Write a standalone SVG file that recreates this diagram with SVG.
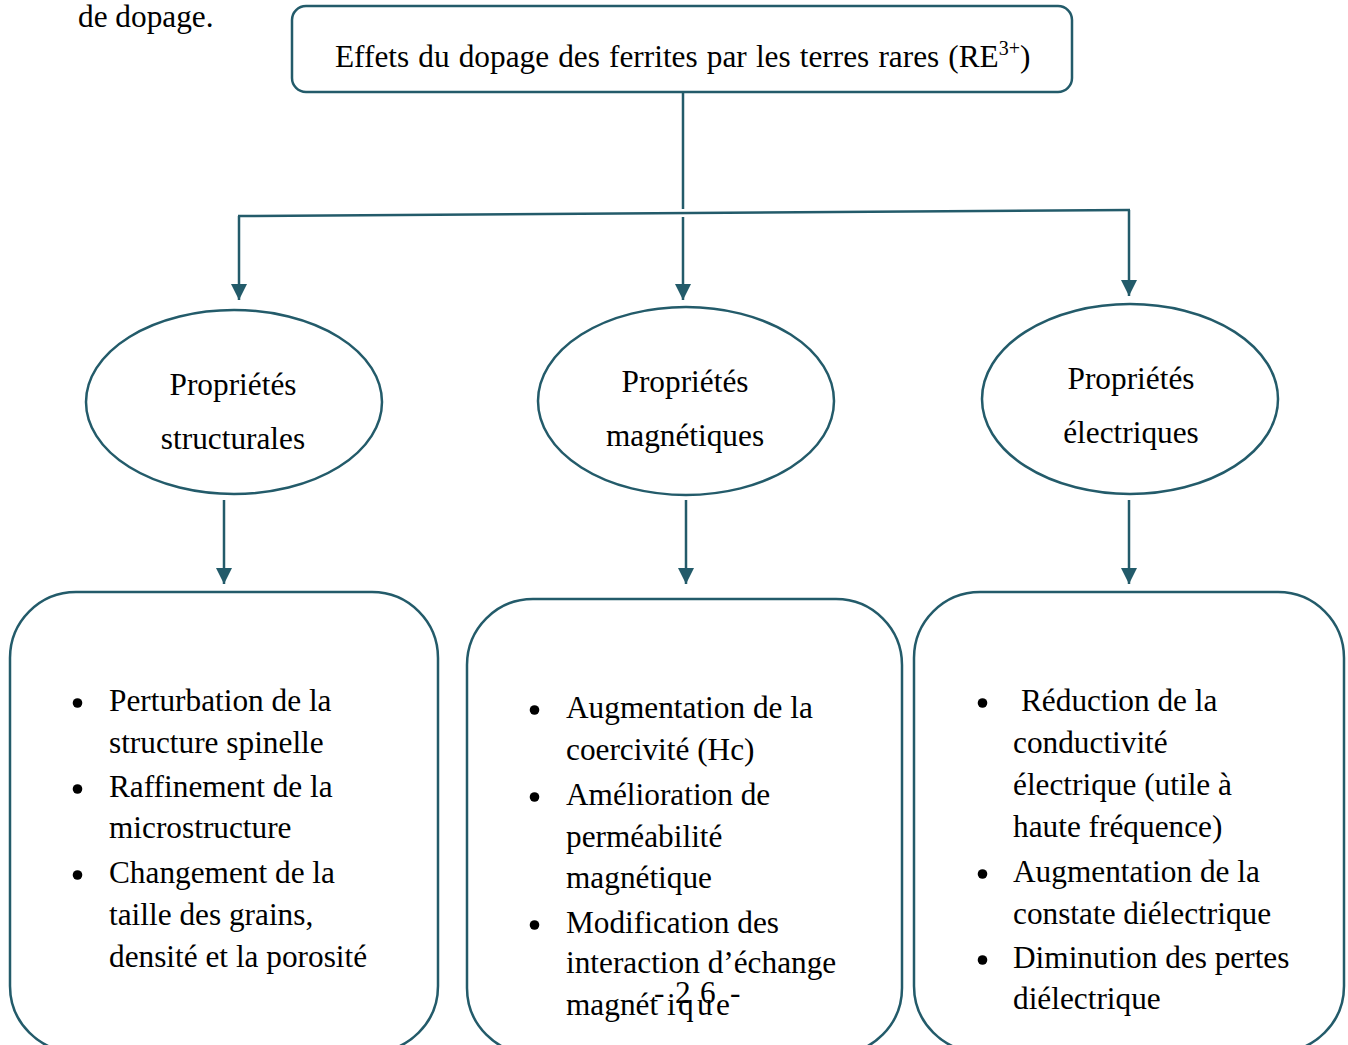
<svg xmlns="http://www.w3.org/2000/svg" width="1348" height="1045" viewBox="0 0 1348 1045">
<style>
  .shape { fill: #ffffff; stroke: #235B6A; stroke-width: 2.5; }
  .conn { fill: none; stroke: #235B6A; stroke-width: 2.5; }
  .t { font-family: "Liberation Serif", "Times New Roman", serif; font-size: 31.3px; fill: #000000; }
  .c { text-anchor: middle; }
  .dot { fill: #000000; }
</style>
<defs>
  <marker id="arrow" markerUnits="userSpaceOnUse" markerWidth="16" markerHeight="16" refX="16" refY="8" orient="auto">
    <path d="M0,0 L16,8 L0,16 z" fill="#235B6A"/>
  </marker>
</defs>
<rect width="1348" height="1045" fill="#ffffff"/>

<text class="t" x="78" y="27">de dopage.</text>

<g id="connectors">
  <line class="conn" x1="683" y1="93" x2="683" y2="209"/>
  <line class="conn" x1="238" y1="216" x2="1130" y2="210"/>
  <line class="conn" x1="239" y1="216" x2="239" y2="300" marker-end="url(#arrow)"/>
  <line class="conn" x1="683" y1="217" x2="683" y2="300" marker-end="url(#arrow)"/>
  <line class="conn" x1="1129" y1="210" x2="1129" y2="296" marker-end="url(#arrow)"/>
  <line class="conn" x1="224" y1="500" x2="224" y2="584" marker-end="url(#arrow)"/>
  <line class="conn" x1="686" y1="500" x2="686" y2="584" marker-end="url(#arrow)"/>
  <line class="conn" x1="1129" y1="500" x2="1129" y2="584" marker-end="url(#arrow)"/>
</g>

<g id="root">
  <rect class="shape" x="292" y="6" width="780" height="86" rx="14"/>
  <text class="t" font-size="32" word-spacing="1.3" x="335" y="67">Effets du dopage des ferrites par les terres rares (RE<tspan font-size="20" dy="-12">3+</tspan><tspan dy="12">)</tspan></text>
</g>

<g id="ell-structurales">
  <ellipse class="shape" cx="234" cy="402" rx="148" ry="92"/>
  <text class="t c" x="233" y="395">Propriétés</text>
  <text class="t c" x="233" y="449">structurales</text>
</g>
<g id="ell-magnetiques">
  <ellipse class="shape" cx="686" cy="401" rx="148" ry="94"/>
  <text class="t c" x="685" y="392">Propriétés</text>
  <text class="t c" x="685" y="446">magnétiques</text>
</g>
<g id="ell-electriques">
  <ellipse class="shape" cx="1130" cy="399" rx="148" ry="95"/>
  <text class="t c" x="1131" y="389">Propriétés</text>
  <text class="t c" x="1131" y="443">électriques</text>
</g>

<g id="box-structurales">
  <rect class="shape" x="10" y="592" width="428" height="460" rx="66"/>
  <circle class="dot" cx="77.5" cy="703" r="4.8"/>
  <circle class="dot" cx="77.5" cy="789" r="4.8"/>
  <circle class="dot" cx="77.5" cy="875" r="4.8"/>
  <text class="t" x="109" y="711">Perturbation de la</text>
  <text class="t" x="109" y="753">structure spinelle</text>
  <text class="t" x="109" y="797">Raffinement de la</text>
  <text class="t" x="109" y="838">microstructure</text>
  <text class="t" x="109" y="883">Changement de la</text>
  <text class="t" x="109" y="925">taille des grains,</text>
  <text class="t" x="109" y="967">densité et la porosité</text>
</g>

<g id="box-magnetiques">
  <rect class="shape" x="467" y="599" width="435" height="455" rx="66"/>
  <circle class="dot" cx="534.5" cy="710" r="4.8"/>
  <circle class="dot" cx="534.5" cy="797" r="4.8"/>
  <circle class="dot" cx="534.5" cy="925" r="4.8"/>
  <text class="t" x="566" y="718">Augmentation de la</text>
  <text class="t" x="566" y="760">coercivité (Hc)</text>
  <text class="t" x="566" y="805">Amélioration de</text>
  <text class="t" x="566" y="847">perméabilité</text>
  <text class="t" x="566" y="888">magnétique</text>
  <text class="t" x="566" y="933">Modification des</text>
  <text class="t" x="566" y="973">interaction d’échange</text>
  <text class="t" x="566" y="1015">magnét<tspan x="667">i</tspan><tspan x="678">q</tspan><tspan x="697">u</tspan><tspan x="716">e</tspan></text>
  <text class="t" font-size="26" y="1003"><tspan x="654">-</tspan><tspan x="675">2</tspan><tspan x="700">6</tspan><tspan x="730">-</tspan></text>
</g>

<g id="box-electriques">
  <rect class="shape" x="914" y="592" width="430" height="460" rx="66"/>
  <circle class="dot" cx="982.5" cy="703" r="4.8"/>
  <circle class="dot" cx="982.5" cy="874" r="4.8"/>
  <circle class="dot" cx="982.5" cy="960" r="4.8"/>
  <text class="t" x="1021" y="711">Réduction de la</text>
  <text class="t" x="1013" y="753">conductivité</text>
  <text class="t" x="1013" y="795">électrique (utile à</text>
  <text class="t" x="1013" y="837">haute fréquence)</text>
  <text class="t" x="1013" y="882">Augmentation de la</text>
  <text class="t" x="1013" y="924">constate diélectrique</text>
  <text class="t" x="1013" y="968">Diminution des pertes</text>
  <text class="t" x="1013" y="1009">diélectrique</text>
</g>
</svg>
